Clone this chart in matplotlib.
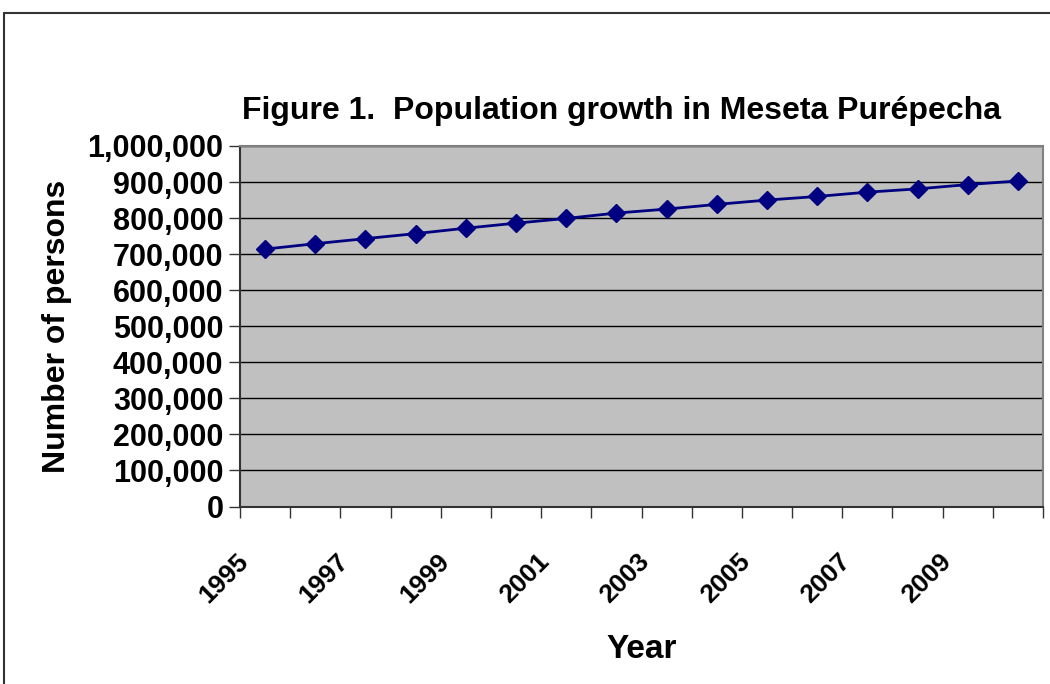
import numpy as np
import matplotlib.pyplot as plt
import matplotlib.transforms as mtransforms
from matplotlib.patches import Rectangle
from matplotlib.ticker import FuncFormatter

plt.rcParams['font.family'] = ['Liberation Sans', 'DejaVu Sans']
plt.rcParams['font.weight'] = 'bold'

# data
years = list(range(1995, 2011))
population = [714000, 729000, 743000, 757000, 772000, 786000, 799000, 814000,
              825000, 838000, 850000, 860000, 872000, 881000, 893000, 903000]
label_years = [1995, 1997, 1999, 2001, 2003, 2005, 2007, 2009]

fig = plt.figure(figsize=(10.5, 6.84), dpi=100)
fig.patch.set_facecolor('white')

# outer chart border (cut off on right and bottom)
fig.patches.append(Rectangle((4 / 1050, -0.01), 1.1, 1 - 13 / 684 + 0.01,
                             transform=fig.transFigure, fill=False,
                             edgecolor='#333333', linewidth=1.5))

ax = fig.add_axes([240 / 1050, 1 - 506.5 / 684, 803 / 1050, 360.5 / 684])
ax.set_facecolor('#C0C0C0')

x = np.arange(len(years))
ax.plot(x, population, color='#000080', linewidth=2, marker='D',
        markersize=9.5, markerfacecolor='#000080', markeredgecolor='#000080',
        zorder=3)

ax.set_xlim(-0.5, len(years) - 0.5)
ax.set_ylim(0, 1000000)
ax.set_yticks(np.arange(0, 1000001, 100000))
ax.yaxis.set_major_formatter(FuncFormatter(lambda v, p: f"{int(v):,}"))
ax.grid(axis='y', color='black', linewidth=1)
ax.set_axisbelow(True)

# tick marks at category boundaries, labels at centres of every other year
ax.set_xticks(np.arange(-0.5, len(years), 1), minor=True)
ax.tick_params(axis='x', which='minor', length=8, width=1, color='#333333')
lab_pos = [years.index(yv) for yv in label_years]
ax.set_xticks(lab_pos)
ax.set_xticklabels([str(yv) for yv in label_years], rotation=45, ha='right',
                   rotation_mode='anchor', fontsize=19, fontweight='bold')
ax.tick_params(axis='x', which='major', length=0, pad=22)
shift = mtransforms.ScaledTranslation(-29 / 100, -12 / 100, fig.dpi_scale_trans)
for lbl in ax.get_xticklabels():
    lbl.set_transform(lbl.get_transform() + shift)
ax.tick_params(axis='y', length=8, width=1, color='#333333', labelsize=22,
               pad=4)
for lbl in ax.get_yticklabels():
    lbl.set_fontweight('bold')

for side in ['top', 'right']:
    ax.spines[side].set_color('#808080')
    ax.spines[side].set_linewidth(1.5)
ax.spines['left'].set_color('#333333')
ax.spines['left'].set_linewidth(1.5)
ax.spines['bottom'].set_color('#333333')
ax.spines['bottom'].set_linewidth(1.5)

fig.text(621 / 1050, 1 - 111 / 684, 'Figure 1.  Population growth in Meseta Purépecha',
         ha='center', va='center', fontsize=23, fontweight='bold')
fig.text(57 / 1050, 1 - 326 / 684, 'Number of persons', rotation=90,
         ha='center', va='center', fontsize=23, fontweight='bold')
fig.text(642 / 1050, 1 - 650 / 684, 'Year', ha='center', va='center',
         fontsize=24, fontweight='bold')

fig.savefig('out.png', dpi=100)
